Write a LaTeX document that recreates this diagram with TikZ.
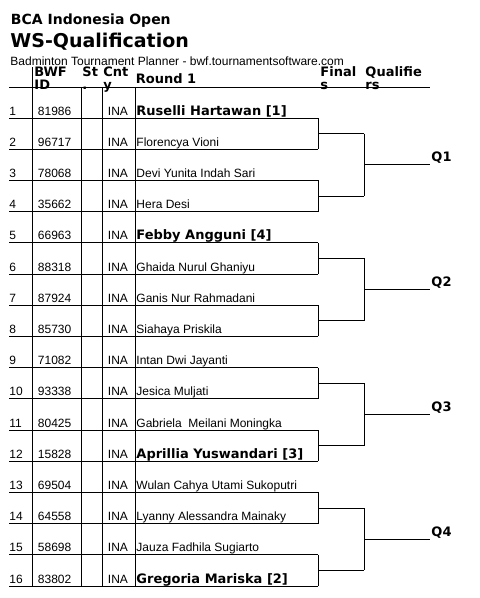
\documentclass[tikz,border=0pt]{standalone}
\usepackage{fontspec}
\setmainfont{Liberation Sans}
\newfontfamily\hdfont{DejaVu Sans}
\usetikzlibrary{calc}

\begin{document}
\begin{tikzpicture}[
  x=1pt, y=-1pt,
  line width=0.9pt,
  txt/.style={anchor=base west, inner sep=0pt, font=\fontsize{12}{14}\selectfont},
  hd/.style={anchor=base west, inner sep=0pt, font=\hdfont\bfseries\fontsize{13}{15}\selectfont},
  plain/.style={txt},
  seeded/.style={hd}
]
\useasboundingbox (0,0) rectangle (480,598);

% titles
\node[hd, font=\hdfont\bfseries\fontsize{14}{16}\selectfont] (event) at (10.5,24) {BCA Indonesia Open};
\node[hd, font=\hdfont\bfseries\fontsize{19}{21}\selectfont] (draw) at (10,47) {WS-Qualification};
\node[txt] (planner) at (10,65) {Badminton Tournament Planner - bwf.tournamentsoftware.com};

% column heads
\node[hd] (hId) at (34,76.5) {BWF};
\node[hd] (hIdb) at (34,89) {ID};
\node[hd] (hSt) at (82,76.5) {St};
\node[hd] (hStb) at (82,89) {.};
\node[hd] (hCn) at (103,76.5) {Cnt};
\node[hd] (hCnb) at (103,89) {y};
\node[hd] (hR1) at (135.5,83) {Round 1};
\node[hd] (hFi) at (320,76.5) {Final};
\node[hd] (hFib) at (320,89) {s};
\node[hd] (hQu) at (365,76.5) {Qualifie};
\node[hd] (hQub) at (365,89) {rs};

\coordinate (hl) at (9,87.3);
\coordinate (hr) at (430,87.3);
\draw (hl) -- (hr);

% table columns
\foreach \c/\x/\t in {a/32.3/67, b/81/87.3, c/102.3/87.3, d/135/87.3} {
  \coordinate (\c top) at (\x,\t);
  \coordinate (\c bot) at (\x,586);
  \draw (\c top) -- (\c bot);
}

% players
\foreach \n/\id/\name/\st in {
  1/81986/Ruselli Hartawan [1]/seeded,
  2/96717/Florencya Vioni/plain,
  3/78068/Devi Yunita Indah Sari/plain,
  4/35662/Hera Desi/plain,
  5/66963/Febby Angguni [4]/seeded,
  6/88318/Ghaida Nurul Ghaniyu/plain,
  7/87924/Ganis Nur Rahmadani/plain,
  8/85730/Siahaya Priskila/plain,
  9/71082/Intan Dwi Jayanti/plain,
  10/93338/Jesica Muljati/plain,
  11/80425/Gabriela\ \ Meilani Moningka/plain,
  12/15828/Aprillia Yuswandari [3]/seeded,
  13/69504/Wulan Cahya Utami Sukoputri/plain,
  14/64558/Lyanny Alessandra Mainaky/plain,
  15/58698/Jauza Fadhila Sugiarto/plain,
  16/83802/Gregoria Mariska [2]/seeded} {
  \pgfmathsetmacro\y{118+31.2*(\n-1)}
  \coordinate (l\n) at (9,\y);
  \coordinate (r\n) at (318,\y);
  \draw (l\n) -- (r\n);
  \node[txt] (no\n) at (9,\y-3) {\n};
  \node[txt] (id\n) at (37.5,\y-3) {\id};
  \node[txt] (ct\n) at (107.5,\y-3) {INA};
  \node[\st] (pl\n) at (136,\y-3) {\name};
}

% finals
\coordinate (fin) at (364,0);
\coordinate (qend) at (430,0);
\foreach \p in {1,...,8} {
  \pgfmathtruncatemacro\a{2*\p-1}
  \pgfmathtruncatemacro\b{2*\p}
  \draw (r\a) -- (r\b);
  \coordinate (m\p) at ($(r\a)!0.5!(r\b)$);
  \coordinate (f\p) at (m\p -| fin);
  \draw (m\p) -- (f\p);
}

% qualifiers
\foreach \q in {1,...,4} {
  \pgfmathtruncatemacro\a{2*\q-1}
  \pgfmathtruncatemacro\b{2*\q}
  \draw (f\a) -- (f\b);
  \coordinate (w\q) at ($(f\a)!0.5!(f\b)$);
  \coordinate (we\q) at (w\q -| qend);
  \draw (w\q) -- (we\q);
  \node[hd] (Q\q) at ($(we\q)+(1,-3)$) {Q\q};
}
\end{tikzpicture}
\end{document}
